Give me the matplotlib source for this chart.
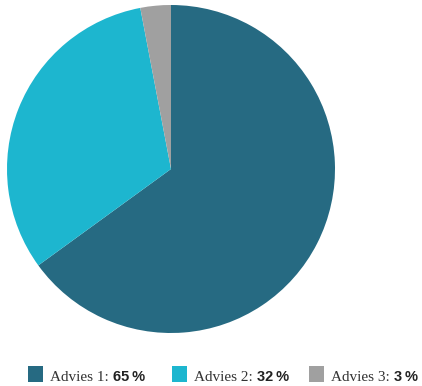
import matplotlib
matplotlib.use("Agg")
import matplotlib.pyplot as plt
from matplotlib.patches import Rectangle

labels = ["Advies 1", "Advies 2", "Advies 3"]
values = [65, 32, 3]
colors = ["#266a82", "#1db6cf", "#a0a0a0"]

fig = plt.figure(figsize=(4.22, 3.86), dpi=100)
W, H = 422, 386

# pie area: center (171,169), radius 164 in pixels
ax = fig.add_axes([7 / W, 53 / H, 328 / W, 328 / H])
ax.pie(values, colors=colors, startangle=90, counterclock=False,
       wedgeprops=dict(linewidth=0))
ax.set_xlim(-1, 1)
ax.set_ylim(-1, 1)
ax.set_aspect("equal")
ax.axis("off")

# legend row
box_x = [28, 172, 309]
base = (386 - 382) / H
for i, lab in enumerate(labels):
    x0 = box_x[i]
    fig.patches.append(Rectangle((x0 / W, base), 15 / W, 16 / H,
                                 transform=fig.transFigure, facecolor=colors[i],
                                 edgecolor="none"))
    t1 = fig.text((x0 + 22) / W, base + 1 / H, lab + ": ", fontsize=11,
                  family="Liberation Serif", color="#333333", va="baseline")
    fig.canvas.draw()
    bb = t1.get_window_extent()
    fig.text(bb.x1 / W, base + 1 / H, f"{values[i]}\u2009%", fontsize=10.5,
             family="Liberation Sans", fontweight="bold", color="#222222",
             va="baseline")

fig.savefig("out.png", dpi=100)
